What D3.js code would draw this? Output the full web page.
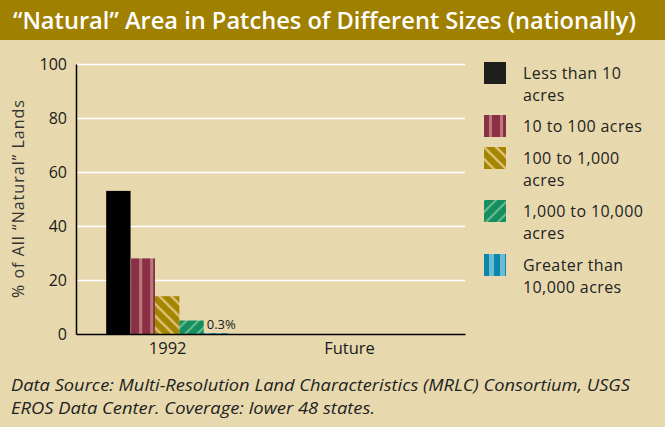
<!DOCTYPE html>
<html>
<head>
<meta charset="utf-8">
<script src="https://cdn.jsdelivr.net/npm/d3@7"></script>
<style>
  body { margin: 0; background: #e7d9ad; }
  svg { display: block; }
</style>
</head>
<body>
<script>
// chart data
const categories = ['1992', 'Future'];
const seriesNames = ['Less than 10 acres', '10 to 100 acres', '100 to 1,000 acres', '1,000 to 10,000 acres', 'Greater than 10,000 acres'];
const legendLines = [['Less than 10', 'acres'], ['10 to 100 acres'], ['100 to 1,000', 'acres'], ['1,000 to 10,000', 'acres'], ['Greater than', '10,000 acres']];
const values1992 = [53, 28, 14, 5, 0.3];
const valuesFuture = [null, null, null, null, null];
const yTicks = [0, 20, 40, 60, 80, 100];
const noteLabel = '0.3%';
const title = '\u201CNatural\u201D Area in Patches of Different Sizes (nationally)';
const yLabel = '% of All \u201CNatural\u201D Lands';
const footnote = ['Data Source: Multi-Resolution Land Characteristics (MRLC) Consortium, USGS', 'EROS Data Center. Coverage: lower 48 states.'];

const W = 665, H = 427;
const font = '"Open Sans", "DejaVu Sans", sans-serif';
const margin = { top: 64, left: 76, right: 200, bottom: 93 };
const width = W - margin.left - margin.right;
const height = H - margin.top - margin.bottom;

const svg = d3.select('body').append('svg')
    .attr('width', W)
    .attr('height', H);

svg.append('rect').attr('width', W).attr('height', H).attr('fill', '#e7d9ad');

// patterns for the bars
const defs = svg.append('defs');
function stripes(id, base, light, size, lines) {
    const p = defs.append('pattern')
        .attr('id', id)
        .attr('patternUnits', 'userSpaceOnUse')
        .attr('width', size).attr('height', size);
    p.append('rect').attr('width', size).attr('height', size).attr('fill', base);
    lines(p, light);
}
stripes('pat-red', '#8a2f45', '#b97a7a', 11, (p, c) => {
    p.append('rect').attr('x', 5).attr('width', 3).attr('height', 11).attr('fill', c);
});
stripes('pat-gold', '#a58400', '#dcc072', 12, (p, c) => {
    p.append('path').attr('d', 'M-3,-3L15,15M-3,9L3,15M9,-3L15,3')
        .attr('stroke', c).attr('stroke-width', 2.5);
});
stripes('pat-green', '#168f60', '#6cb98f', 12, (p, c) => {
    p.append('path').attr('d', 'M-3,15L15,-3M-3,3L3,-3M9,15L15,9')
        .attr('stroke', c).attr('stroke-width', 2);
});
stripes('pat-blue', '#0b87ac', '#6dbad3', 11, (p, c) => {
    p.append('rect').attr('x', 5).attr('width', 5).attr('height', 11).attr('fill', c);
});
const fills = ['#000000', 'url(#pat-red)', 'url(#pat-gold)', 'url(#pat-green)', 'url(#pat-blue)'];
const legendFills = ['#1e1e1c', 'url(#pat-red)', 'url(#pat-gold)', 'url(#pat-green)', 'url(#pat-blue)'];

// title bar
svg.append('rect').attr('width', W).attr('height', 40).attr('fill', '#9f8000');
svg.append('text')
    .attr('x', 13).attr('y', 29)
    .attr('fill', '#ffffff')
    .attr('textLength', 623).attr('lengthAdjust', 'spacingAndGlyphs')
    .style('font-family', font).style('font-size', '23px').style('font-weight', 600)
    .text(title);

const g = svg.append('g').attr('transform', `translate(${margin.left},${margin.top})`);

const x0 = d3.scalePoint().domain(categories).range([0, width]).padding(0.57).align(0.44);
const x1 = d3.scaleBand().domain(seriesNames).range([-61, 61]);
const y = d3.scaleLinear().domain([0, 100]).range([height, 0]);

// gridlines
g.append('g')
    .call(d3.axisLeft(y).tickValues(yTicks.slice(1)).tickSize(-width).tickFormat(''))
    .call(a => a.select('.domain').remove())
    .call(a => a.selectAll('line').attr('stroke', '#ffffff').attr('stroke-width', 1.5));

// bars
const data = [values1992, valuesFuture];
const groups = g.selectAll('.grp').data(categories).join('g')
    .attr('transform', d => `translate(${x0(d)},0)`);
groups.each(function (cat, ci) {
    const vals = data[ci].map((v, i) => ({ key: seriesNames[i], v, i })).filter(d => d.v != null);
    d3.select(this).selectAll('rect').data(vals).join('rect')
        .attr('x', d => x1(d.key))
        .attr('width', x1.bandwidth())
        .attr('y', d => y(d.v))
        .attr('height', d => y(0) - y(d.v))
        .attr('fill', d => fills[d.i]);
});

// small value note on the last bar
g.append('text')
    .attr('x', x0('1992') + x1(seriesNames[4]) + 3)
    .attr('y', y(values1992[4]) - 4)
    .attr('fill', '#1a1a1a')
    .style('font-family', font).style('font-size', '13px')
    .text(noteLabel);

// axes
g.append('g')
    .call(d3.axisLeft(y).tickValues(yTicks).tickSize(0).tickPadding(9))
    .call(a => a.select('.domain').attr('stroke', '#000').attr('stroke-width', 1.5))
    .call(a => a.selectAll('text').attr('fill', '#1a1a1a').style('font-family', font).style('font-size', '16px'));

g.append('g')
    .attr('transform', `translate(0,${height})`)
    .call(d3.axisBottom(x0).tickSize(0).tickPadding(8))
    .call(a => a.select('.domain').attr('stroke', '#000').attr('stroke-width', 1.5))
    .call(a => a.selectAll('text').attr('fill', '#1a1a1a').style('font-family', font).style('font-size', '16.5px'));

g.append('text')
    .attr('transform', 'rotate(-90)')
    .attr('x', -height / 2).attr('y', -52)
    .attr('text-anchor', 'middle')
    .attr('fill', '#333')
    .attr('textLength', 198).attr('lengthAdjust', 'spacing')
    .style('font-family', font).style('font-size', '16px')
    .text(yLabel);

// legend
const legendTop = [62, 115, 147, 200, 254];
const legend = svg.append('g').attr('transform', 'translate(484,0)');
seriesNames.forEach((name, i) => {
    const lg = legend.append('g').attr('transform', `translate(0,${legendTop[i]})`);
    lg.append('rect').attr('width', 22).attr('height', 22).attr('fill', legendFills[i]);
    lg.append('text')
        .attr('x', 39).attr('y', 17)
        .attr('fill', '#222')
        .style('font-family', font).style('font-size', '16px').style('letter-spacing', '0.4px')
        .selectAll('tspan').data(legendLines[i]).join('tspan')
        .attr('x', 39).attr('dy', (d, j) => j ? 21.5 : 0)
        .text(d => d);
});

// footnote
const noteWidths = [619, 364];
svg.selectAll('.note').data(footnote).join('text')
    .attr('x', 11)
    .attr('y', (d, i) => 391 + i * 23)
    .attr('fill', '#222')
    .attr('textLength', (d, i) => noteWidths[i]).attr('lengthAdjust', 'spacingAndGlyphs')
    .style('font-family', font).style('font-size', '16.5px').style('font-style', 'italic')
    .text(d => d);
</script>
</body>
</html>
